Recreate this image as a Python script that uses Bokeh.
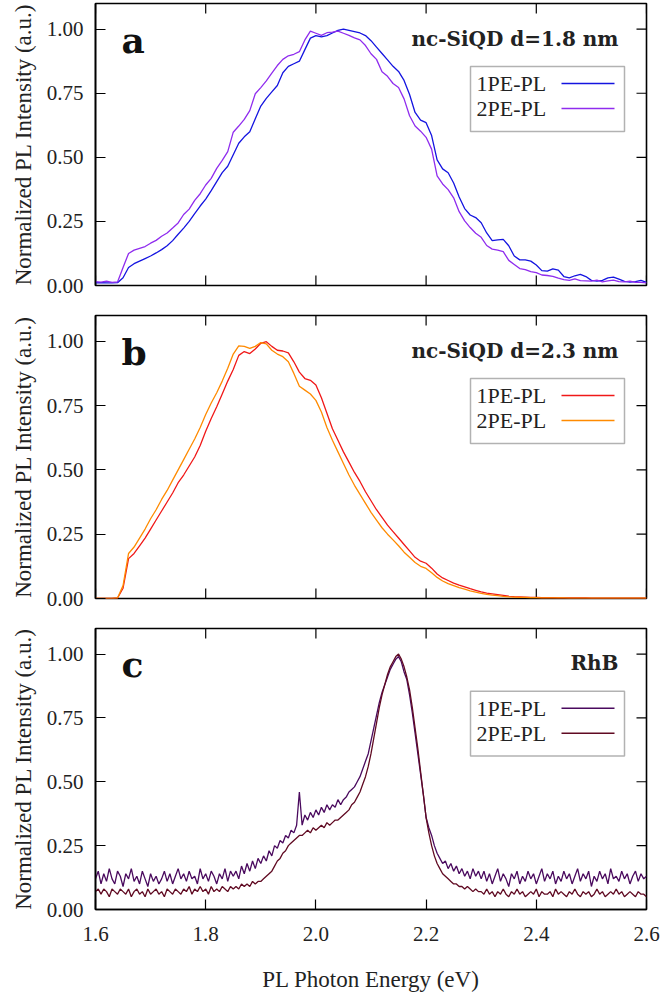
import numpy as np
from bokeh.plotting import figure
from bokeh.models import Range1d, FixedTicker, Label, BoxAnnotation, PrintfTickFormatter
from bokeh.layouts import column
from bokeh.embed import file_html
from bokeh.resources import INLINE

# ---------------- data ----------------
x_ticks = [1.6, 1.8, 2.0, 2.2, 2.4, 2.6]
y_ticks = [0.0, 0.25, 0.5, 0.75, 1.0]
series_names = ["1PE-PL", "2PE-PL"]
panel_titles = ["nc-SiQD d=1.8 nm", "nc-SiQD d=2.3 nm", "RhB"]
panel_letters = ["a", "b", "c"]

# panels a, b sampled every 0.01 eV from 1.60 to 2.60
a_1pe = [
    0.010, 0.011, 0.010, 0.010, 0.011, 0.030, 0.070, 0.085, 0.095, 0.105,
    0.115, 0.127, 0.140, 0.155, 0.175, 0.200, 0.224, 0.250, 0.280, 0.310,
    0.337, 0.370, 0.405, 0.440, 0.465, 0.510, 0.555, 0.580, 0.600, 0.650,
    0.700, 0.730, 0.755, 0.780, 0.830, 0.855, 0.865, 0.875, 0.920, 0.965,
    0.975, 0.970, 0.975, 0.985, 0.995, 1.000, 0.995, 0.990, 0.985, 0.975,
    0.955, 0.930, 0.905, 0.880, 0.855, 0.835, 0.800, 0.745, 0.675, 0.645,
    0.635, 0.585, 0.490, 0.455, 0.440, 0.400, 0.345, 0.300, 0.275, 0.265,
    0.245, 0.205, 0.175, 0.178, 0.180, 0.155, 0.115, 0.100, 0.100, 0.095,
    0.080, 0.058, 0.056, 0.065, 0.060, 0.035, 0.030, 0.038, 0.043, 0.035,
    0.020, 0.017, 0.020, 0.030, 0.033, 0.025, 0.016, 0.013, 0.015, 0.020,
    0.012,
]
a_2pe = [
    0.015, 0.013, 0.017, 0.012, 0.014, 0.070, 0.125, 0.138, 0.145, 0.152,
    0.165, 0.176, 0.192, 0.205, 0.224, 0.244, 0.277, 0.298, 0.332, 0.358,
    0.392, 0.418, 0.457, 0.488, 0.522, 0.598, 0.622, 0.648, 0.682, 0.748,
    0.772, 0.798, 0.828, 0.858, 0.882, 0.896, 0.902, 0.912, 0.958, 0.992,
    0.984, 0.976, 0.986, 0.988, 0.992, 0.984, 0.976, 0.966, 0.958, 0.936,
    0.904, 0.882, 0.834, 0.816, 0.788, 0.772, 0.728, 0.662, 0.622, 0.602,
    0.578, 0.532, 0.428, 0.396, 0.374, 0.342, 0.288, 0.252, 0.226, 0.204,
    0.188, 0.156, 0.142, 0.138, 0.132, 0.098, 0.082, 0.066, 0.062, 0.054,
    0.050, 0.041, 0.039, 0.036, 0.029, 0.023, 0.020, 0.026, 0.019, 0.018,
    0.017, 0.021, 0.014, 0.018, 0.021, 0.015, 0.014, 0.017, 0.012, 0.012,
    0.010,
]
b_1pe = [
    0.000, 0.000, 0.000, 0.000, 0.002, 0.040, 0.155, 0.175, 0.205, 0.235,
    0.270, 0.305, 0.340, 0.375, 0.410, 0.450, 0.480, 0.515, 0.550, 0.595,
    0.650, 0.700, 0.745, 0.795, 0.845, 0.890, 0.945, 0.960, 0.952, 0.970,
    0.992, 0.998, 0.980, 0.965, 0.962, 0.955, 0.920, 0.880, 0.855, 0.848,
    0.830, 0.780, 0.720, 0.660, 0.615, 0.570, 0.530, 0.490, 0.455, 0.415,
    0.380, 0.345, 0.315, 0.285, 0.260, 0.235, 0.210, 0.185, 0.160, 0.145,
    0.137, 0.118, 0.095, 0.080, 0.070, 0.060, 0.052, 0.045, 0.038, 0.032,
    0.026, 0.021, 0.018, 0.015, 0.012, 0.009, 0.007, 0.006, 0.005, 0.004,
    0.004, 0.003, 0.003, 0.003, 0.002, 0.002, 0.002, 0.002, 0.002, 0.002,
    0.001, 0.001, 0.001, 0.001, 0.001, 0.001, 0.001, 0.001, 0.001, 0.001,
    0.001,
]
b_2pe = [
    0.000, 0.000, 0.000, 0.000, 0.002, 0.050, 0.175, 0.200, 0.235, 0.270,
    0.310, 0.345, 0.385, 0.420, 0.460, 0.500, 0.540, 0.580, 0.620, 0.665,
    0.715, 0.760, 0.800, 0.845, 0.895, 0.950, 0.982, 0.980, 0.972, 0.980,
    0.995, 0.990, 0.965, 0.950, 0.940, 0.920, 0.875, 0.825, 0.810, 0.795,
    0.770, 0.725, 0.665, 0.615, 0.570, 0.525, 0.480, 0.440, 0.405, 0.370,
    0.335, 0.305, 0.275, 0.250, 0.228, 0.205, 0.180, 0.160, 0.140, 0.125,
    0.117, 0.100, 0.082, 0.068, 0.058, 0.050, 0.042, 0.036, 0.030, 0.025,
    0.020, 0.016, 0.013, 0.011, 0.008, 0.006, 0.005, 0.004, 0.004, 0.003,
    0.003, 0.002, 0.002, 0.002, 0.002, 0.002, 0.001, 0.001, 0.001, 0.001,
    0.001, 0.001, 0.001, 0.001, 0.001, 0.001, 0.001, 0.001, 0.001, 0.001,
    0.001,
]

# panel c sampled every 0.005 eV from 1.600 to 2.600
c_1pe = [
    # 1.600 - 1.850
    0.12, 0.15, 0.10, 0.14, 0.11, 0.16, 0.12, 0.10, 0.15, 0.13,
    0.09, 0.14, 0.12, 0.16, 0.11, 0.13, 0.10, 0.15, 0.12, 0.09,
    0.14, 0.11, 0.13, 0.10, 0.12, 0.15, 0.11, 0.14, 0.10, 0.13,
    0.16, 0.12, 0.14, 0.11, 0.15, 0.12, 0.13, 0.10, 0.16, 0.12,
    0.14, 0.11, 0.15, 0.13, 0.10, 0.14, 0.12, 0.16, 0.11, 0.15,
    0.13,
    # 1.855 - 2.295
    0.15, 0.12, 0.17, 0.14, 0.18, 0.15, 0.19, 0.16, 0.20, 0.18,
    0.21, 0.19, 0.23, 0.21, 0.25, 0.24, 0.27, 0.26, 0.29, 0.28,
    0.31, 0.30, 0.33, 0.46, 0.33, 0.37, 0.35, 0.38, 0.36, 0.39,
    0.37, 0.40, 0.38, 0.41, 0.39, 0.41, 0.40, 0.43, 0.41, 0.43,
    0.44, 0.46, 0.47, 0.48, 0.50, 0.52, 0.55, 0.58, 0.61, 0.66,
    0.71, 0.76, 0.81, 0.85, 0.88, 0.91, 0.94, 0.96, 0.98, 0.99,
    0.97, 0.93, 0.90, 0.84, 0.77, 0.69, 0.61, 0.53, 0.45, 0.36,
    0.32, 0.29, 0.25, 0.22, 0.20, 0.18, 0.19, 0.16, 0.18, 0.15,
    0.17, 0.14, 0.16, 0.13, 0.15, 0.12, 0.16, 0.13, 0.15,
    # 2.300 - 2.600
    0.12, 0.15, 0.11, 0.14, 0.10, 0.13, 0.16, 0.11, 0.14, 0.12,
    0.09, 0.14, 0.12, 0.15, 0.10, 0.13, 0.11, 0.15, 0.12, 0.14,
    0.10, 0.13, 0.16, 0.11, 0.14, 0.12, 0.15, 0.10, 0.13, 0.11,
    0.15, 0.12, 0.14, 0.10, 0.13, 0.16, 0.11, 0.14, 0.12, 0.15,
    0.09, 0.13, 0.11, 0.15, 0.12, 0.14, 0.10, 0.16, 0.12, 0.13,
    0.11, 0.15, 0.12, 0.14, 0.10, 0.13, 0.15, 0.11, 0.14, 0.12,
    0.13,
]
c_2pe = [
    # 1.600 - 1.850
    0.07, 0.08, 0.06, 0.08, 0.07, 0.05, 0.08, 0.07, 0.06, 0.08,
    0.07, 0.06, 0.08, 0.05, 0.07, 0.08, 0.06, 0.07, 0.05, 0.08,
    0.06, 0.07, 0.08, 0.06, 0.07, 0.05, 0.08, 0.07, 0.06, 0.08,
    0.07, 0.06, 0.08, 0.07, 0.09, 0.06, 0.08, 0.07, 0.09, 0.07,
    0.08, 0.06, 0.09, 0.07, 0.08, 0.07, 0.09, 0.08, 0.07, 0.09,
    0.08,
    # 1.855 - 2.295
    0.09, 0.08, 0.10, 0.09, 0.10, 0.09, 0.11, 0.10, 0.11, 0.11,
    0.12, 0.13, 0.14, 0.15, 0.17, 0.19, 0.20, 0.22, 0.23, 0.25,
    0.26, 0.27, 0.28, 0.29, 0.29, 0.30, 0.31, 0.30, 0.32, 0.31,
    0.32, 0.33, 0.32, 0.34, 0.33, 0.34, 0.35, 0.35, 0.36, 0.37,
    0.38, 0.39, 0.41, 0.42, 0.44, 0.46, 0.49, 0.52, 0.56, 0.61,
    0.67, 0.73, 0.79, 0.84, 0.88, 0.92, 0.95, 0.97, 0.99, 1.00,
    0.98, 0.95, 0.91, 0.86, 0.79, 0.71, 0.63, 0.54, 0.45, 0.36,
    0.30, 0.25, 0.21, 0.18, 0.16, 0.14, 0.13, 0.12, 0.11, 0.10,
    0.10, 0.09, 0.09, 0.08, 0.09, 0.08, 0.07, 0.08, 0.07,
    # 2.300 - 2.600
    0.07, 0.06, 0.08, 0.06, 0.07, 0.05, 0.07, 0.06, 0.08, 0.06,
    0.05, 0.07, 0.06, 0.08, 0.06, 0.07, 0.05, 0.06, 0.07, 0.06,
    0.08, 0.05, 0.07, 0.06, 0.06, 0.07, 0.05, 0.08, 0.06, 0.07,
    0.06, 0.05, 0.07, 0.06, 0.08, 0.06, 0.05, 0.07, 0.06, 0.07,
    0.05, 0.06, 0.08, 0.06, 0.07, 0.05, 0.06, 0.07, 0.06, 0.08,
    0.06, 0.07, 0.05, 0.06, 0.07, 0.06, 0.05, 0.07, 0.06, 0.06,
    0.05,
]


def energy(vals, step):
    return list(np.round(1.6 + step * np.arange(len(vals)), 4))


panel_data = [
    (a_1pe, a_2pe, 0.01, ["#1414e0", "#8f2cee"]),
    (b_1pe, b_2pe, 0.01, ["#f01818", "#ff8a00"]),
    (c_1pe, c_2pe, 0.005, ["#4a0a5e", "#600a22"]),
]

SERIF = "Liberation Serif"
BOLD = "DejaVu Serif"
FS = "21px"
FS_LAB = "23px"
XMIN, XMAX = 1.6, 2.6
YMAX = 1.1
FRAME_W = 551
TICK_PX = 10


def yrel(rel, frame_h):
    return YMAX * (1 - rel / frame_h)


def xpx(px):
    return XMIN + (px - 95) / FRAME_W * (XMAX - XMIN)


def make_panel(i, height, top, bottom, frame_h, show_x):
    v1, v2, step, cols = panel_data[i]
    p = figure(width=662, height=height, output_backend="svg", toolbar_location=None,
               x_range=Range1d(XMIN, XMAX), y_range=Range1d(0, YMAX),
               min_border_left=95, min_border_right=16,
               min_border_top=top, min_border_bottom=bottom,
               x_axis_location="below" if show_x else None)
    p.grid.visible = False
    p.background_fill_color = "white"
    p.border_fill_color = "white"
    p.outline_line_color = "black"
    p.outline_line_width = 1.6

    axes = list(p.yaxis) + (list(p.xaxis) if show_x else [])
    for ax in axes:
        ax.major_tick_in = TICK_PX
        ax.major_tick_out = 0
        ax.minor_tick_in = 0
        ax.minor_tick_out = 0
        ax.major_tick_line_width = 1.2
        ax.major_tick_line_color = "black"
        ax.axis_line_color = "black"
        ax.axis_line_width = 1.6
        ax.major_label_text_font = SERIF
        ax.major_label_text_font_size = FS
        ax.major_label_text_color = "#222222"
        ax.axis_label_text_font = SERIF
        ax.axis_label_text_font_size = FS_LAB
        ax.axis_label_text_font_style = "normal"
        ax.axis_label_text_color = "#222222"

    yax = p.yaxis[0]
    yax.ticker = FixedTicker(ticks=y_ticks)
    yax.formatter = PrintfTickFormatter(format="%.2f")
    yax.axis_label = "Normalized PL Intensity (a.u.)"
    yax.major_label_standoff = 12
    yax.axis_label_standoff = 8

    if show_x:
        xax = p.xaxis[0]
        xax.ticker = FixedTicker(ticks=x_ticks)
        xax.formatter = PrintfTickFormatter(format="%.1f")
        xax.axis_label = "PL Photon Energy (eV)"
        xax.major_label_standoff = 17
        xax.axis_label_standoff = 23

    # inward mirror ticks on the unlabelled sides
    dx = TICK_PX / FRAME_W * (XMAX - XMIN)
    dy = TICK_PX / frame_h * YMAX
    p.segment(x0=x_ticks, y0=[YMAX] * len(x_ticks), x1=x_ticks, y1=[YMAX - dy] * len(x_ticks),
              line_color="black", line_width=1.2)
    if not show_x:
        p.segment(x0=x_ticks, y0=[0] * len(x_ticks), x1=x_ticks, y1=[dy] * len(x_ticks),
                  line_color="black", line_width=1.2)
    p.segment(x0=[XMAX] * len(y_ticks), y0=y_ticks, x1=[XMAX - dx] * len(y_ticks), y1=y_ticks,
              line_color="black", line_width=1.2)

    xs1 = energy(v1, step)
    xs2 = energy(v2, step)
    p.line(xs1, v1, line_color=cols[0], line_width=1.3)
    p.line(xs2, v2, line_color=cols[1], line_width=1.3)

    # panel letter and title
    p.add_layout(Label(x=xpx(121), y=yrel(36, frame_h), text=panel_letters[i],
                       text_font=BOLD, text_font_style="bold", text_font_size="36px",
                       text_align="left", text_baseline="alphabetic", text_color="#111111"))
    p.add_layout(Label(x=xpx(618), y=yrel(35, frame_h), text=panel_titles[i],
                       text_font=BOLD, text_font_style="bold", text_font_size="20px",
                       text_align="right", text_baseline="middle", text_color="#222222"))

    # legend box (text left, sample line right)
    p.add_layout(BoxAnnotation(left=xpx(470), right=xpx(624),
                               top=yrel(63, frame_h), bottom=yrel(128, frame_h),
                               fill_alpha=0, line_color="black", line_width=1.5))
    rows = [yrel(80, frame_h), yrel(105, frame_h)]
    for k in range(2):
        p.add_layout(Label(x=xpx(476), y=rows[k], text=series_names[k],
                           text_font=SERIF, text_font_size="22px", text_align="left",
                           text_baseline="middle", text_color="#222222"))
        p.line([xpx(561), xpx(614)], [rows[k], rows[k]],
               line_color=cols[k], line_width=1.5)
    return p


pa = make_panel(0, 300, 3, 15, 282, False)
pb = make_panel(1, 313, 15, 15, 283, False)
pc = make_panel(2, 381, 15, 84, 282, True)

layout = column(pa, pb, pc, spacing=0)
open("out.html", "w").write(file_html(layout, INLINE))
